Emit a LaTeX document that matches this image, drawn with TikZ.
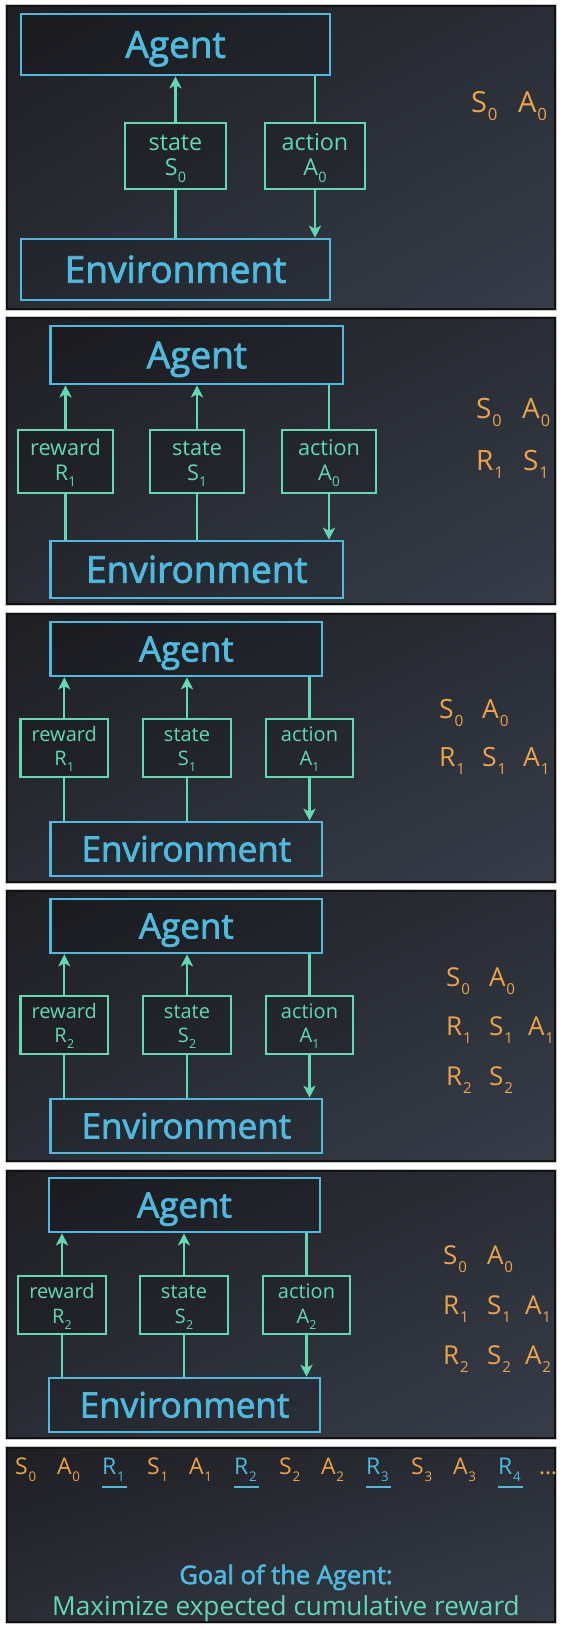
\documentclass[tikz,border=0pt]{standalone}
\usepackage{fontspec}
\usepackage{graphicx}
\setmainfont{Open Sans}
\newfontfamily\semib{Open Sans}[FakeBold=2.2]
\usetikzlibrary{arrows.meta,fit,shadings}
\definecolor{cblue}{HTML}{4FB9DE}
\definecolor{cteal}{HTML}{62D8B3}
\definecolor{corange}{HTML}{EBA34C}
\definecolor{bgA}{HTML}{1F1F23}
\definecolor{bgB}{HTML}{363D49}
\definecolor{bgC}{HTML}{2A2D35}
\definecolor{pedge}{HTML}{111114}
\newcommand{\sbx}[1]{\kern0.01em\raisebox{-0.32em}{\scalebox{0.62}{#1}}}
\newcommand{\sbr}[1]{\kern0.03em\raisebox{-0.31em}{\scalebox{0.58}{#1}}}
\newcommand{\fsA}{\fontsize{23.3}{26}\selectfont}
\newcommand{\fsB}{\fontsize{21.7}{24}\selectfont}
\newcommand{\fsC}{\fontsize{20}{22}\selectfont}
\newcommand{\fsRa}{\fontsize{29}{32}\selectfont}
\newcommand{\fsRb}{\fontsize{28}{32}\selectfont}
\newcommand{\fsRc}{\fontsize{26.5}{30}\selectfont}
\newcommand{\fsRd}{\fontsize{26}{30}\selectfont}
\newcommand{\fsS}{\fontsize{23}{25}\selectfont}
\tikzset{
  panelbox/.style={draw=pedge, line width=1.4pt, upper left=bgA, lower right=bgB, upper right=bgC, lower left=bgC},
  bigbox/.style={draw=cblue, line width=2.6pt, fill=black, fill opacity=0.12, inner sep=0pt},
  smallbox/.style={draw=cteal, line width=2.6pt, fill=black, fill opacity=0.15, inner sep=0pt},
  bigA/.style={text=cblue, inner sep=0pt, text depth=0pt, text height=26.4pt, font=\semib\fontsize{37}{40}\selectfont},
  bigB/.style={text=cblue, inner sep=0pt, text depth=0pt, text height=25pt, font=\semib\fontsize{35}{38}\selectfont},
  lbl/.style={text=cteal, inner sep=0pt, anchor=base},
  rt/.style={text=corange, inner sep=0pt, anchor=base west},
  arr/.style={draw=cteal, line width=2.2pt, -{Stealth[length=12pt, width=12pt, inset=3pt]}},
  ln/.style={draw=cteal, line width=2.2pt},
  uline/.style={draw=cblue, line width=2pt}
}
\newcommand{\panel}[2]{%
  \draw[gray!45, line width=0.8pt] (5.8,{#1-1.3}) rectangle (556.2,{#2+1.3});
  \shadedraw[panelbox] (7,#1) rectangle (555,#2);
}
\begin{document}
\begin{tikzpicture}[x=1pt,y=-1pt]
\fill[white] (0,0) rectangle (567,1630);
\useasboundingbox (0,0) rectangle (567,1630);
\panel{6}{309}
\panel{318}{604}
\panel{614}{882}
\panel{891}{1161}
\panel{1171}{1438}
\panel{1448}{1622}

% ---------- Panel 1
\node[bigbox, fit={(21,14)(330,75)}] (ag1) {};
\node[bigbox, fit={(21,239)(330,300)}] (en1) {};
\node[smallbox, fit={(125,123)(226,189)}] (st1) {};
\node[smallbox, fit={(265,123)(365,189)}] (ac1) {};
\node[bigA] (ag1t) at (ag1.center) {Agent};
\node[bigA] (en1t) at (en1.center) {Environment};
\node[lbl, font=\fsA] (st1a) at (175.5,150) {state};
\node[lbl, font=\fsA] (st1b) at (175.5,175) {S\sbx{0}};
\node[lbl, font=\fsA] (ac1a) at (315,150) {action};
\node[lbl, font=\fsA] (ac1b) at (315,175) {A\sbx{0}};
\draw[arr] (st1.north) -- (st1.north |- ag1.south);
\draw[ln] (st1.south) -- (st1.south |- en1.north);
\draw[ln] (ac1.north) -- (ac1.north |- ag1.south);
\draw[arr] (ac1.south) -- (ac1.south |- en1.north);
\node[rt, font=\fsRa] (p1r1) at (471,112) {S\sbr{0}};
\node[rt, font=\fsRa] (p1r2) at (518,112) {A\sbr{0}};

% ---------- Panel 2
\node[bigbox, fit={(50.6,326)(343,384)}] (ag2) {};
\node[bigbox, fit={(50.6,541)(343,598)}] (en2) {};
\node[smallbox, fit={(18,430)(113,493)}] (rw2) {};
\node[smallbox, fit={(150,430)(244,493)}] (st2) {};
\node[smallbox, fit={(282,430)(376,493)}] (ac2) {};
\node[bigA] (ag2t) at (ag2.center) {Agent};
\node[bigA] (en2t) at (en2.center) {Environment};
\node[lbl, font=\fsB] (rw2a) at (65.5,455) {reward};
\node[lbl, font=\fsB] (rw2b) at (65.5,480) {R\sbx{1}};
\node[lbl, font=\fsB] (st2a) at (197,455) {state};
\node[lbl, font=\fsB] (st2b) at (197,480) {S\sbx{1}};
\node[lbl, font=\fsB] (ac2a) at (329,455) {action};
\node[lbl, font=\fsB] (ac2b) at (329,480) {A\sbx{0}};
\draw[arr] (rw2.north) -- (rw2.north |- ag2.south);
\draw[ln] (rw2.south) -- (rw2.south |- en2.north);
\draw[arr] (st2.north) -- (st2.north |- ag2.south);
\draw[ln] (st2.south) -- (st2.south |- en2.north);
\draw[ln] (ac2.north) -- (ac2.north |- ag2.south);
\draw[arr] (ac2.south) -- (ac2.south |- en2.north);
\node[rt, font=\fsRb] (p2r1) at (476,418) {S\sbr{0}};
\node[rt, font=\fsRb] (p2r2) at (522,418) {A\sbr{0}};
\node[rt, font=\fsRb] (p2r3) at (476,470) {R\sbr{1}};
\node[rt, font=\fsRb] (p2r4) at (523,470) {S\sbr{1}};

% ---------- Panel 3
\node[bigbox, fit={(50.6,622)(322,676)}] (ag3) {};
\node[bigbox, fit={(50.6,822)(322,876)}] (en3) {};
\node[smallbox, fit={(20.6,719)(108,777)}] (rw3) {};
\node[smallbox, fit={(143,719)(231,777)}] (st3) {};
\node[smallbox, fit={(266,719)(353,777)}] (ac3) {};
\node[bigB] (ag3t) at (ag3.center) {Agent};
\node[bigB] (en3t) at (en3.center) {Environment};
\node[lbl, font=\fsC] (rw3a) at (64.3,741) {reward};
\node[lbl, font=\fsC] (rw3b) at (64.3,765) {R\sbx{1}};
\node[lbl, font=\fsC] (st3a) at (187,741) {state};
\node[lbl, font=\fsC] (st3b) at (187,765) {S\sbx{1}};
\node[lbl, font=\fsC] (ac3a) at (309.5,741) {action};
\node[lbl, font=\fsC] (ac3b) at (309.5,765) {A\sbx{1}};
\draw[arr] (rw3.north) -- (rw3.north |- ag3.south);
\draw[ln] (rw3.south) -- (rw3.south |- en3.north);
\draw[arr] (st3.north) -- (st3.north |- ag3.south);
\draw[ln] (st3.south) -- (st3.south |- en3.north);
\draw[ln] (ac3.north) -- (ac3.north |- ag3.south);
\draw[arr] (ac3.south) -- (ac3.south |- en3.north);
\node[rt, font=\fsRc] (p3r1) at (439,718) {S\sbr{0}};
\node[rt, font=\fsRc] (p3r2) at (482,718) {A\sbr{0}};
\node[rt, font=\fsRc] (p3r3) at (439,766) {R\sbr{1}};
\node[rt, font=\fsRc] (p3r4) at (482,766) {S\sbr{1}};
\node[rt, font=\fsRc] (p3r5) at (523,766) {A\sbr{1}};

% ---------- Panel 4
\node[bigbox, fit={(50.6,899)(322,953)}] (ag4) {};
\node[bigbox, fit={(50.6,1099)(322,1153)}] (en4) {};
\node[smallbox, fit={(20.6,996)(108,1054)}] (rw4) {};
\node[smallbox, fit={(143,996)(231,1054)}] (st4) {};
\node[smallbox, fit={(266,996)(353,1054)}] (ac4) {};
\node[bigB] (ag4t) at (ag4.center) {Agent};
\node[bigB] (en4t) at (en4.center) {Environment};
\node[lbl, font=\fsC] (rw4a) at (64.3,1018) {reward};
\node[lbl, font=\fsC] (rw4b) at (64.3,1042) {R\sbx{2}};
\node[lbl, font=\fsC] (st4a) at (187,1018) {state};
\node[lbl, font=\fsC] (st4b) at (187,1042) {S\sbx{2}};
\node[lbl, font=\fsC] (ac4a) at (309.5,1018) {action};
\node[lbl, font=\fsC] (ac4b) at (309.5,1042) {A\sbx{1}};
\draw[arr] (rw4.north) -- (rw4.north |- ag4.south);
\draw[ln] (rw4.south) -- (rw4.south |- en4.north);
\draw[arr] (st4.north) -- (st4.north |- ag4.south);
\draw[ln] (st4.south) -- (st4.south |- en4.north);
\draw[ln] (ac4.north) -- (ac4.north |- ag4.south);
\draw[arr] (ac4.south) -- (ac4.south |- en4.north);
\node[rt, font=\fsRd] (p4r1) at (446,986) {S\sbr{0}};
\node[rt, font=\fsRd] (p4r2) at (489,986) {A\sbr{0}};
\node[rt, font=\fsRd] (p4r3) at (446,1035) {R\sbr{1}};
\node[rt, font=\fsRd] (p4r4) at (489,1035) {S\sbr{1}};
\node[rt, font=\fsRd] (p4r5) at (528,1035) {A\sbr{1}};
\node[rt, font=\fsRd] (p4r6) at (446,1085) {R\sbr{2}};
\node[rt, font=\fsRd] (p4r7) at (489,1085) {S\sbr{2}};

% ---------- Panel 5
\node[bigbox, fit={(49,1178)(320,1232)}] (ag5) {};
\node[bigbox, fit={(49,1378)(320,1432)}] (en5) {};
\node[smallbox, fit={(18,1276)(106,1334)}] (rw5) {};
\node[smallbox, fit={(140,1276)(228,1334)}] (st5) {};
\node[smallbox, fit={(263,1276)(350,1334)}] (ac5) {};
\node[bigB] (ag5t) at (ag5.center) {Agent};
\node[bigB] (en5t) at (en5.center) {Environment};
\node[lbl, font=\fsC] (rw5a) at (62,1298) {reward};
\node[lbl, font=\fsC] (rw5b) at (62,1323) {R\sbx{2}};
\node[lbl, font=\fsC] (st5a) at (184,1298) {state};
\node[lbl, font=\fsC] (st5b) at (184,1323) {S\sbx{2}};
\node[lbl, font=\fsC] (ac5a) at (306.5,1298) {action};
\node[lbl, font=\fsC] (ac5b) at (306.5,1323) {A\sbx{2}};
\draw[arr] (rw5.north) -- (rw5.north |- ag5.south);
\draw[ln] (rw5.south) -- (rw5.south |- en5.north);
\draw[arr] (st5.north) -- (st5.north |- ag5.south);
\draw[ln] (st5.south) -- (st5.south |- en5.north);
\draw[ln] (ac5.north) -- (ac5.north |- ag5.south);
\draw[arr] (ac5.south) -- (ac5.south |- en5.north);
\node[rt, font=\fsRd] (p5r1) at (443,1264) {S\sbr{0}};
\node[rt, font=\fsRd] (p5r2) at (487,1264) {A\sbr{0}};
\node[rt, font=\fsRd] (p5r3) at (443,1314) {R\sbr{1}};
\node[rt, font=\fsRd] (p5r4) at (487,1314) {S\sbr{1}};
\node[rt, font=\fsRd] (p5r5) at (525,1314) {A\sbr{1}};
\node[rt, font=\fsRd] (p5r6) at (443,1364) {R\sbr{2}};
\node[rt, font=\fsRd] (p5r7) at (487,1364) {S\sbr{2}};
\node[rt, font=\fsRd] (p5r8) at (525,1364) {A\sbr{2}};

% ---------- Panel 6
\foreach \x/\t/\c [count=\i] in {15/S\sbr{0}/corange, 57/A\sbr{0}/corange, 102/R\sbr{1}/cblue,
   147/S\sbr{1}/corange, 189/A\sbr{1}/corange, 234/R\sbr{2}/cblue,
   279/S\sbr{2}/corange, 321/A\sbr{2}/corange, 366/R\sbr{3}/cblue,
   411/S\sbr{3}/corange, 453/A\sbr{3}/corange, 498/R\sbr{4}/cblue, 539/\textellipsis/corange}{
  \node[rt, font=\fsS, text=\c] (q\i) at (\x,1474) {\t};
}
\foreach \i in {3,6,9,12}{
  \draw[uline] (q\i.base west) ++(0,13) -- ++(25,0);
}
\node[inner sep=0pt, anchor=base, text=cblue, font=\semib\fontsize{25.5}{30}\selectfont] (goal) at (286,1584) {Goal of the Agent:};
\node[inner sep=0pt, anchor=base, text=cteal, font=\fontsize{26.2}{30}\selectfont] (maxi) at (286,1615) {Maximize expected cumulative reward};
\end{tikzpicture}
\end{document}
